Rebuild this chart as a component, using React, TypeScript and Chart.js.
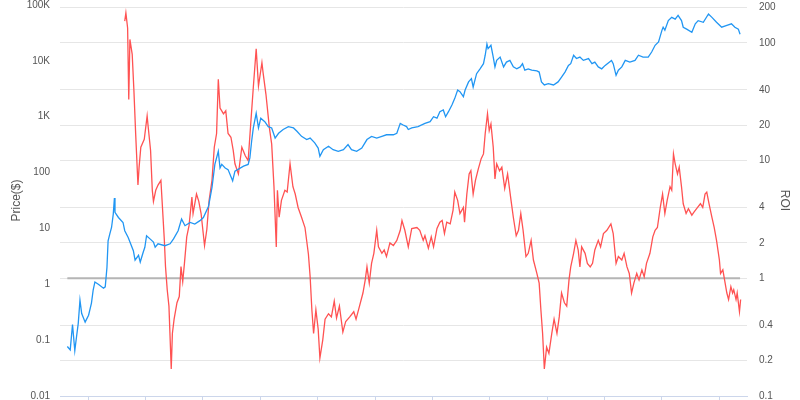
import React, { useEffect, useRef } from "react";
import { Chart, registerables } from "chart.js";

Chart.register(...registerables);

const priceDates = [
  2010.64, 2010.69, 2010.73, 2010.77, 2010.8, 2010.83, 2010.86, 2010.89, 2010.95, 2011.01,
  2011.06, 2011.09, 2011.12, 2011.18, 2011.27, 2011.3, 2011.33, 2011.35, 2011.38, 2011.41,
  2011.44, 2011.46, 2011.47, 2011.53, 2011.61, 2011.64, 2011.7, 2011.79, 2011.82, 2011.88,
  2011.91, 2011.96, 2011.99, 2012.02, 2012.08, 2012.14, 2012.17, 2012.22, 2012.34, 2012.43,
  2012.49, 2012.57, 2012.63, 2012.69, 2012.78, 2012.86, 2012.95, 2013.01, 2013.1, 2013.16,
  2013.21, 2013.27, 2013.3, 2013.33, 2013.39, 2013.44, 2013.5, 2013.52, 2013.56, 2013.71,
  2013.79, 2013.82, 2013.85, 2013.88, 2013.93, 2013.97, 2014.01, 2014.08, 2014.14, 2014.2,
  2014.26, 2014.32, 2014.4, 2014.49, 2014.58, 2014.64, 2014.72, 2014.81, 2014.87, 2014.95,
  2015.01, 2015.04, 2015.1, 2015.19, 2015.27, 2015.36, 2015.45, 2015.53, 2015.59, 2015.68,
  2015.77, 2015.86, 2015.94, 2016.03, 2016.12, 2016.2, 2016.32, 2016.38, 2016.44, 2016.49,
  2016.55, 2016.58, 2016.64, 2016.75, 2016.87, 2016.96, 2017.02, 2017.08, 2017.13, 2017.19,
  2017.23, 2017.28, 2017.34, 2017.39, 2017.44, 2017.48, 2017.54, 2017.57, 2017.63, 2017.68,
  2017.71, 2017.77, 2017.83, 2017.89, 2017.92, 2017.95, 2017.97, 2018.02, 2018.06, 2018.09,
  2018.12, 2018.18, 2018.24, 2018.29, 2018.35, 2018.41, 2018.47, 2018.53, 2018.57, 2018.61,
  2018.67, 2018.73, 2018.82, 2018.86, 2018.9, 2018.95, 2019.02, 2019.11, 2019.19, 2019.25,
  2019.31, 2019.37, 2019.41, 2019.46, 2019.51, 2019.57, 2019.63, 2019.72, 2019.78, 2019.83,
  2019.89, 2019.95, 2020.01, 2020.12, 2020.15, 2020.2, 2020.24, 2020.3, 2020.36, 2020.44,
  2020.53, 2020.59, 2020.67, 2020.76, 2020.82, 2020.88, 2020.94, 2021.0, 2021.02, 2021.05,
  2021.11, 2021.17, 2021.23, 2021.28, 2021.34, 2021.37, 2021.43, 2021.52, 2021.58, 2021.63,
  2021.72, 2021.81, 2021.87, 2021.95, 2022.04, 2022.13, 2022.21, 2022.27, 2022.33, 2022.36,
];

const priceValues = [
  0.077, 0.067, 0.19, 0.065, 0.115, 0.2, 0.52, 0.3, 0.21, 0.28,
  0.46, 0.79, 1.1, 1.0, 0.85, 0.9, 2.0, 6, 8, 10.4,
  18, 35, 19.4, 15.7, 12.8, 9.1, 6.9, 4, 2.7, 3.3,
  2.5, 3.7, 4.6, 7.4, 6.5, 5.7, 4.6, 5.3, 4.9, 5.3,
  6.5, 9.1, 14.7, 11.2, 12.8, 12, 13.8, 15.7, 25, 54,
  140, 240, 121, 140, 121, 113, 80, 71, 106, 130,
  140, 183, 360, 630, 1150, 630, 940, 815, 665, 630,
  415, 505, 590, 665, 630, 550, 445, 390, 415, 340,
  275, 195, 257, 295, 257, 240, 257, 316, 257, 240,
  275, 390, 445, 415, 445, 475, 475, 505, 760, 710,
  665, 590, 630, 665, 760, 815, 1000, 940, 1230, 1320,
  1000, 1230, 1620, 2130, 3000, 2810, 2290, 3000, 4200, 4800,
  3400, 5900, 7200, 8900, 12600, 20000, 16500, 19000, 11700, 7800,
  10200, 11700, 7800, 9500, 10200, 7800, 7200, 7800, 8900, 6800,
  7200, 6800, 6600, 6300, 4200, 3700, 3900, 3700, 4200, 5100,
  6300, 8300, 8900, 12600, 11000, 11700, 10200, 11000, 8900, 9500,
  7800, 7200, 8300, 10200, 8900, 5500, 6800, 7800, 10200, 9500,
  10200, 12600, 11700, 11700, 14400, 19000, 21800, 35500, 40000, 35500,
  52500, 60000, 56000, 65000, 52500, 40000, 37000, 32500, 46000, 52500,
  49000, 69000, 60000, 49000, 40000, 43000, 46000, 40000, 37000, 30000,
];

const roiDates = [
  2011.64, 2011.66, 2011.69, 2011.71, 2011.73, 2011.77, 2011.8, 2011.83, 2011.87, 2011.89,
  2011.92, 2011.98, 2012.03, 2012.05, 2012.09, 2012.12, 2012.14, 2012.18, 2012.22, 2012.27,
  2012.29, 2012.33, 2012.35, 2012.38, 2012.41, 2012.45, 2012.47, 2012.5, 2012.55, 2012.59,
  2012.62, 2012.65, 2012.68, 2012.72, 2012.76, 2012.81, 2012.83, 2012.89, 2012.93, 2012.97,
  2013.03, 2013.07, 2013.11, 2013.16, 2013.2, 2013.24, 2013.27, 2013.3, 2013.33, 2013.36,
  2013.4, 2013.44, 2013.49, 2013.53, 2013.56, 2013.62, 2013.68, 2013.74, 2013.79, 2013.83,
  2013.88, 2013.93, 2013.97, 2014.03, 2014.05, 2014.1, 2014.16, 2014.2, 2014.24, 2014.28,
  2014.3, 2014.33, 2014.37, 2014.43, 2014.47, 2014.52, 2014.57, 2014.61, 2014.66, 2014.72,
  2014.78, 2014.84, 2014.87, 2014.9, 2014.93, 2014.97, 2015.01, 2015.04, 2015.09, 2015.13,
  2015.19, 2015.24, 2015.29, 2015.33, 2015.38, 2015.44, 2015.49, 2015.56, 2015.63, 2015.67,
  2015.73, 2015.79, 2015.83, 2015.86, 2015.9, 2015.94, 2015.98, 2016.03, 2016.06, 2016.12,
  2016.16, 2016.2, 2016.26, 2016.32, 2016.38, 2016.44, 2016.47, 2016.52, 2016.58, 2016.64,
  2016.73, 2016.78, 2016.84, 2016.87, 2016.93, 2016.98, 2017.02, 2017.08, 2017.13, 2017.17,
  2017.21, 2017.25, 2017.31, 2017.36, 2017.39, 2017.44, 2017.48, 2017.54, 2017.56, 2017.6,
  2017.64, 2017.67, 2017.71, 2017.75, 2017.8, 2017.85, 2017.89, 2017.92, 2017.96, 2017.99,
  2018.02, 2018.06, 2018.09, 2018.12, 2018.17, 2018.21, 2018.26, 2018.31, 2018.37, 2018.41,
  2018.46, 2018.5, 2018.54, 2018.58, 2018.63, 2018.67, 2018.72, 2018.76, 2018.82, 2018.86,
  2018.89, 2018.92, 2018.95, 2018.99, 2019.03, 2019.08, 2019.12, 2019.17, 2019.21, 2019.25,
  2019.3, 2019.34, 2019.38, 2019.41, 2019.46, 2019.5, 2019.54, 2019.57, 2019.6, 2019.66,
  2019.7, 2019.75, 2019.79, 2019.83, 2019.89, 2019.93, 2019.98, 2020.04, 2020.11, 2020.15,
  2020.2, 2020.24, 2020.3, 2020.34, 2020.39, 2020.43, 2020.47, 2020.51, 2020.56, 2020.6,
  2020.65, 2020.69, 2020.73, 2020.79, 2020.84, 2020.88, 2020.92, 2020.97, 2021.01, 2021.05,
  2021.09, 2021.14, 2021.17, 2021.2, 2021.23, 2021.27, 2021.3, 2021.34, 2021.37, 2021.42,
  2021.46, 2021.52, 2021.56, 2021.62, 2021.67, 2021.71, 2021.75, 2021.78, 2021.82, 2021.87,
  2021.91, 2021.95, 2022.0, 2022.02, 2022.06, 2022.1, 2022.13, 2022.16, 2022.2, 2022.23,
  2022.25, 2022.29, 2022.31, 2022.35, 2022.37,
];

const roiValues = [
  153, 180, 134, 33, 107, 80, 39, 17, 6.2, 8.8,
  13, 15.2, 24, 19, 12.2, 5.6, 4.5, 5.6, 6.2, 6.8,
  4.6, 2.1, 1.26, 0.8, 0.58, 0.17, 0.34, 0.45, 0.62, 0.7,
  1.26, 0.94, 1.34, 2.25, 2.8, 4.9, 3.55, 5.2, 4.5, 3.55,
  1.9, 2.6, 4.6, 6.8, 13, 17, 49, 28, 26.5, 25,
  26.5, 17, 15.8, 12.2, 9.4, 7.7, 13, 11, 10, 19,
  42, 89, 43, 68, 56, 36.6, 19, 13.8, 6, 1.85,
  5.6, 3.3, 4.6, 5.6, 5.4, 9.4, 6, 5.2, 4, 3.3,
  2.7, 1.6, 1.03, 0.54, 0.34, 0.54, 0.37, 0.21, 0.3, 0.45,
  0.5, 0.47, 0.64, 0.46, 0.58, 0.35, 0.43, 0.47, 0.52, 0.45,
  0.58, 0.75, 0.97, 1.25, 0.91, 1.34, 1.63, 2.56, 1.85, 1.63,
  1.74, 1.53, 2.0, 1.9, 2.1, 2.56, 3.1, 2.56, 1.85, 2.65,
  2.7, 2.56, 2.1, 2.3, 1.8, 2.25, 1.85, 2.65, 3.0, 3.1,
  2.4, 3.0, 2.9, 3.8, 5.4, 4.6, 3.55, 4.0, 3.0, 5.2,
  7.7, 8.2, 5.2, 6.8, 8.5, 10.4, 11.4, 17, 25, 18,
  20.5, 13, 7, 9.4, 8.2, 8.8, 5.8, 7.7, 4.6, 3.3,
  2.3, 2.56, 3.55, 2.56, 1.53, 1.63, 2.1, 1.43, 1.1, 0.91,
  0.54, 0.34, 0.17, 0.26, 0.23, 0.34, 0.45, 0.34, 0.47, 0.75,
  0.62, 0.58, 0.97, 1.25, 1.63, 2.1, 1.74, 1.25, 1.85, 1.63,
  1.34, 1.25, 1.34, 1.74, 2.1, 1.85, 2.4, 2.56, 2.9, 2.4,
  1.34, 1.53, 1.43, 1.63, 1.25, 1.1, 0.75, 0.91, 1.1, 0.97,
  1.18, 1.03, 1.34, 1.63, 2.25, 2.56, 2.7, 4.0, 5.2, 3.55,
  4.6, 6, 5.6, 11.4, 9.4, 7.7, 8.8, 6, 4.3, 3.55,
  3.9, 3.44, 3.66, 4.0, 4.3, 4.0, 5.2, 5.4, 4.3, 3.3,
  2.7, 2.1, 1.43, 1.1, 1.18, 0.91, 0.75, 0.66, 0.85, 0.75,
  0.8, 0.66, 0.75, 0.52, 0.66,
];

const yearTicks = [2011, 2012, 2013, 2014, 2015, 2016, 2017, 2018, 2019, 2020, 2021, 2022];
const priceTicks = [0.01, 0.1, 1, 10, 100, 1000, 10000, 100000];
const roiTicks = [0.1, 0.2, 0.4, 1, 2, 4, 10, 20, 40, 100, 200];
const breakEvenLine = [1, 1];

const FONT = "'Liberation Sans', Arial, sans-serif";

function fmtPrice(v: number): string {
  if (v >= 1000) return v / 1000 + "K";
  return String(v);
}

export default function App() {
  const ref = useRef<HTMLCanvasElement | null>(null);

  useEffect(() => {
    if (!ref.current) return;
    const chart = new Chart(ref.current, {
      type: "line",
      data: {
        datasets: [
          {
            label: "Price($)",
            data: priceDates.map((d, i) => ({ x: d, y: priceValues[i] })),
            yAxisID: "y",
            borderColor: "#2196f3",
            borderWidth: 1.3,
            pointRadius: 0,
            tension: 0,
            order: 1,
          },
          {
            label: "ROI",
            data: roiDates.map((d, i) => ({ x: d, y: roiValues[i] })),
            yAxisID: "y2",
            borderColor: "#ff5252",
            borderWidth: 1.3,
            pointRadius: 0,
            tension: 0,
            order: 2,
          },
          {
            label: "ROI = 1",
            data: [
              { x: priceDates[0], y: breakEvenLine[0] },
              { x: priceDates[priceDates.length - 1], y: breakEvenLine[1] },
            ],
            yAxisID: "y2",
            borderColor: "#b5b5b5",
            borderWidth: 2,
            pointRadius: 0,
            order: 3,
          },
        ],
      },
      options: {
        animation: false,
        responsive: false,
        layout: { padding: 0 },
        plugins: { legend: { display: false }, tooltip: { enabled: false } },
        scales: {
          x: {
            type: "linear",
            min: 2010.512,
            max: 2022.481,
            afterBuildTicks: (s: any) => {
              s.ticks = yearTicks.map((v) => ({ value: v }));
            },
            ticks: { display: false },
            grid: { drawOnChartArea: false, drawTicks: true, tickLength: 8, tickColor: "#ccd6eb" },
            border: { color: "#ccd6eb" },
          },
          y: {
            type: "logarithmic",
            position: "left",
            min: 0.01,
            max: 100000,
            afterBuildTicks: (s: any) => {
              s.ticks = priceTicks.map((v) => ({ value: v }));
            },
            afterFit: (s: any) => {
              s.width = 60;
            },
            ticks: {
              callback: (v: any) => fmtPrice(Number(v)),
              color: "#555555",
              font: { family: FONT, size: 10 },
              padding: 10,
            },
            grid: { display: false, drawTicks: false },
            border: { display: false },
            title: {
              display: true,
              text: "Price($)",
              color: "#555555",
              font: { family: FONT, size: 12 },
              padding: { top: 9, bottom: 0 },
            },
          },
          y2: {
            type: "logarithmic",
            position: "right",
            min: 0.1,
            max: 210,
            afterBuildTicks: (s: any) => {
              s.ticks = roiTicks.map((v) => ({ value: v }));
            },
            afterFit: (s: any) => {
              s.width = 53;
            },
            ticks: {
              callback: (v: any) => String(Number(v)),
              color: "#555555",
              font: { family: FONT, size: 10 },
              padding: 12,
            },
            grid: { color: "#e6e6e6", drawTicks: false },
            border: { display: false },
            title: {
              display: true,
              text: "ROI",
              color: "#555555",
              font: { family: FONT, size: 12 },
              padding: { top: 8, bottom: 0 },
            },
          },
        },
      },
    });
    return () => chart.destroy();
  }, []);

  return (
    <div style={{ position: "absolute", left: 0, top: -13, width: 800, height: 427 }}>
      <canvas ref={ref} width={800} height={427} />
    </div>
  );
}
